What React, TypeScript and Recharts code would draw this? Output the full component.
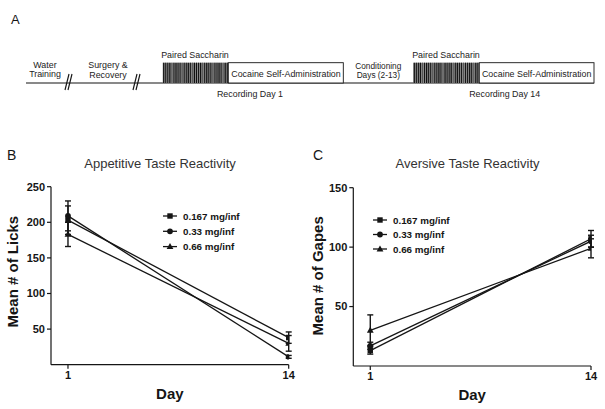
import { ErrorBar, Legend, Line, LineChart, XAxis, YAxis } from 'recharts'

const days = [1, 14]
const dayTicks = [1, 14]
const doseLabels = ['0.167 mg/inf', '0.33 mg/inf', '0.66 mg/inf']
const doseShapes = ['square', 'circle', 'triangle']

// B: appetitive taste reactivity (licks), mean and SEM per dose
const licksMean167 = [203, 38]
const licksErr167 = [20, 8]
const licksMean33 = [209, 11]
const licksErr33 = [21, 2]
const licksMean66 = [183, 30]
const licksErr66 = [17, 11]
const licksTicks = [50, 100, 150, 200, 250]

// C: aversive taste reactivity (gapes)
const gapesMean167 = [13, 107]
const gapesErr167 = [3, 7]
const gapesMean33 = [17, 105]
const gapesErr33 = [3, 5]
const gapesMean66 = [30, 99]
const gapesErr66 = [13, 8]
const gapesTicks = [50, 100, 150]

const ink = '#151515'
const font = '"Liberation Sans", Arial, Helvetica, sans-serif'

const toPoints = (mean: number[], err: number[]) =>
  days.map((day, i) => ({ day, value: mean[i], err: err[i] }))

const licksSeries = [
  toPoints(licksMean167, licksErr167),
  toPoints(licksMean33, licksErr33),
  toPoints(licksMean66, licksErr66),
]
const gapesSeries = [
  toPoints(gapesMean167, gapesErr167),
  toPoints(gapesMean33, gapesErr33),
  toPoints(gapesMean66, gapesErr66),
]

function Marker({ cx, cy, shape }: { cx?: number; cy?: number; shape: string }) {
  if (cx == null || cy == null) return null
  if (shape === 'square') return <rect x={cx - 2.7} y={cy - 2.7} width={5.4} height={5.4} fill={ink} />
  if (shape === 'circle') return <circle cx={cx} cy={cy} r={2.9} fill={ink} />
  return <polygon points={`${cx},${cy - 3.6} ${cx + 3.4},${cy + 2.4} ${cx - 3.4},${cy + 2.4}`} fill={ink} />
}

function DoseLegend({ rowGap }: { rowGap: number }) {
  return (
    <svg width={120} height={rowGap * 2 + 14} style={{ display: 'block', overflow: 'visible' }}>
      {doseLabels.map((label, i) => {
        const y = 7 + i * rowGap
        return (
          <g key={label}>
            <line x1={3} x2={17} y1={y} y2={y} stroke={ink} strokeWidth={1.3} />
            <Marker cx={10} cy={y} shape={doseShapes[i]} />
            <text x={23} y={y + 3.5} fontSize={9.8} fontWeight="bold" fill={ink} fontFamily={font}>
              {label}
            </text>
          </g>
        )
      })}
    </svg>
  )
}

type PanelProps = {
  left: number
  top: number
  width: number
  height: number
  margin: { top: number; right: number; bottom: number; left: number }
  yMax: number
  yTicks: number[]
  yLabel: string
  yLabelGap: number
  yLabelShift: number
  series: { day: number; value: number; err: number }[][]
  legendLeft: number
  legendTop: number
  legendRowGap: number
}

function Panel(p: PanelProps) {
  const tickStyle = { fill: ink, fontSize: 11, fontWeight: 'bold', fontFamily: font }
  return (
    <div style={{ position: 'absolute', left: p.left, top: p.top }}>
      <LineChart width={p.width} height={p.height} margin={p.margin}>
        <XAxis
          type="number"
          dataKey="day"
          domain={[0, 14]}
          ticks={dayTicks}
          allowDataOverflow
          height={30}
          tickSize={4}
          axisLine={{ stroke: ink, strokeWidth: 1.2 }}
          tickLine={{ stroke: ink, strokeWidth: 1.2 }}
          tick={tickStyle}
          label={{
            content: (lp: any) => {
              const vb = lp.viewBox
              return (
                <text
                  x={vb.x + vb.width / 2}
                  y={vb.y + 34}
                  textAnchor="middle"
                  fontSize={15}
                  fontWeight="bold"
                  fill={ink}
                  fontFamily={font}
                >
                  Day
                </text>
              )
            },
          }}
        />
        <YAxis
          type="number"
          domain={[0, p.yMax]}
          ticks={p.yTicks}
          width={40}
          tickSize={4}
          axisLine={{ stroke: ink, strokeWidth: 1.2 }}
          tickLine={{ stroke: ink, strokeWidth: 1.2 }}
          tick={tickStyle}
          label={{
            content: (lp: any) => {
              const vb = lp.viewBox
              const cx = vb.x + vb.width - p.yLabelGap
              const cy = vb.y + vb.height / 2 + p.yLabelShift
              return (
                <text
                  x={cx}
                  y={cy}
                  transform={`rotate(-90 ${cx} ${cy})`}
                  textAnchor="middle"
                  dominantBaseline="central"
                  fontSize={15}
                  fontWeight="bold"
                  fill={ink}
                  fontFamily={font}
                >
                  {p.yLabel}
                </text>
              )
            },
          }}
        />
        <Legend
          layout="vertical"
          align="center"
          verticalAlign="middle"
          wrapperStyle={{ left: p.legendLeft, top: p.legendTop, width: 120 }}
          content={() => <DoseLegend rowGap={p.legendRowGap} />}
        />
        {p.series.map((data, i) => (
          <Line
            key={doseLabels[i]}
            name={doseLabels[i]}
            data={data}
            dataKey="value"
            type="linear"
            stroke={ink}
            strokeWidth={1.3}
            isAnimationActive={false}
            dot={(dp: any) => <Marker key={`${i}-${dp.index}`} cx={dp.cx} cy={dp.cy} shape={doseShapes[i]} />}
          >
            <ErrorBar dataKey="err" width={3} stroke={ink} strokeWidth={1.4} direction="y" isAnimationActive={false} />
          </Line>
        ))}
      </LineChart>
    </div>
  )
}

function Stripes({ x0, x1, y0, y1 }: { x0: number; x1: number; y0: number; y1: number }) {
  const lines = []
  let k = 0
  for (let x = x0 + 1; x < x1 - 0.5; x += 2.05) {
    lines.push(
      <line key={k} x1={x} x2={x} y1={y0} y2={y1} stroke={k % 5 === 4 ? '#555' : '#111'} strokeWidth={k % 3 === 0 ? 1.2 : 1} />
    )
    k++
  }
  return (
    <g>
      <rect x={x0} y={y0} width={x1 - x0} height={y1 - y0} fill="#8a8a8a" />
      {lines}
    </g>
  )
}

function BreakMark({ x }: { x: number }) {
  return (
    <g stroke={ink} strokeWidth={1.1}>
      <line x1={x - 4} y1={90} x2={x} y2={74} />
      <line x1={x - 1} y1={90} x2={x + 3} y2={74} />
    </g>
  )
}

function Timeline() {
  const t = { fontSize: 8.9, fill: '#222', fontFamily: font, textAnchor: 'middle' as const }
  return (
    <g>
      <text x={11} y={24} fontSize={13} fill={ink} fontFamily={font}>A</text>
      <line x1={26} x2={594} y1={83} y2={83} stroke={ink} strokeWidth={1.2} />
      <BreakMark x={69} />
      <BreakMark x={137} />
      <text {...t} x={45} y={67.5}>Water</text>
      <text {...t} x={45} y={77}>Training</text>
      <text {...t} x={108} y={68}>Surgery &amp;</text>
      <text {...t} x={108} y={77.5}>Recovery</text>

      <Stripes x0={162.7} x1={228.3} y0={62.7} y1={83} />
      <rect x={228.3} y={62.7} width={115} height={20.3} fill="#fff" stroke={ink} strokeWidth={0.9} />
      <text {...t} x={195} y={57.5}>Paired Saccharin</text>
      <text {...t} x={286} y={76.5}>Cocaine Self-Administration</text>
      <text {...t} x={250} y={96.5}>Recording Day 1</text>

      <text {...t} x={378.3} y={69} fontSize={8.3}>Conditioning</text>
      <text {...t} x={378.3} y={77.5} fontSize={8.3}>Days (2-13)</text>

      <Stripes x0={413.3} x1={479.3} y0={62.7} y1={83} />
      <rect x={479.3} y={62.7} width={114.7} height={20.3} fill="#fff" stroke={ink} strokeWidth={0.9} />
      <text {...t} x={446} y={57.5}>Paired Saccharin</text>
      <text {...t} x={536.7} y={76.5}>Cocaine Self-Administration</text>
      <text {...t} x={504.7} y={96.5}>Recording Day 14</text>
    </g>
  )
}

export default function App() {
  return (
    <div style={{ position: 'absolute', left: 0, top: 0, width: 605, height: 409, background: '#fff', fontFamily: font }}>
      <svg width={605} height={409} style={{ position: 'absolute', left: 0, top: 0 }}>
        <Timeline />
        <text x={7} y={160} fontSize={14} fill={ink} fontFamily={font}>B</text>
        <text x={160} y={168} fontSize={13} fill="#333" fontFamily={font} textAnchor="middle">
          Appetitive Taste Reactivity
        </text>
        <text x={313} y={160} fontSize={14} fill={ink} fontFamily={font}>C</text>
        <text x={467.5} y={168} fontSize={13} fill="#333" fontFamily={font} textAnchor="middle">
          Aversive Taste Reactivity
        </text>
      </svg>
      <Panel
        left={0}
        top={140}
        width={300}
        height={269}
        margin={{ top: 46.7, right: 11.3, bottom: 14.3, left: 11 }}
        yMax={250}
        yTicks={licksTicks}
        yLabel="Mean # of Licks"
        yLabelGap={38}
        yLabelShift={-4}
        series={licksSeries}
        legendLeft={160}
        legendTop={69}
        legendRowGap={15.3}
      />
      <Panel
        left={300}
        top={140}
        width={305}
        height={269}
        margin={{ top: 47.7, right: 14, bottom: 13, left: 13.3 }}
        yMax={150}
        yTicks={gapesTicks}
        yLabel="Mean # of Gapes"
        yLabelGap={35.3}
        yLabelShift={-1}
        series={gapesSeries}
        legendLeft={70}
        legendTop={73}
        legendRowGap={14.5}
      />
    </div>
  )
}
